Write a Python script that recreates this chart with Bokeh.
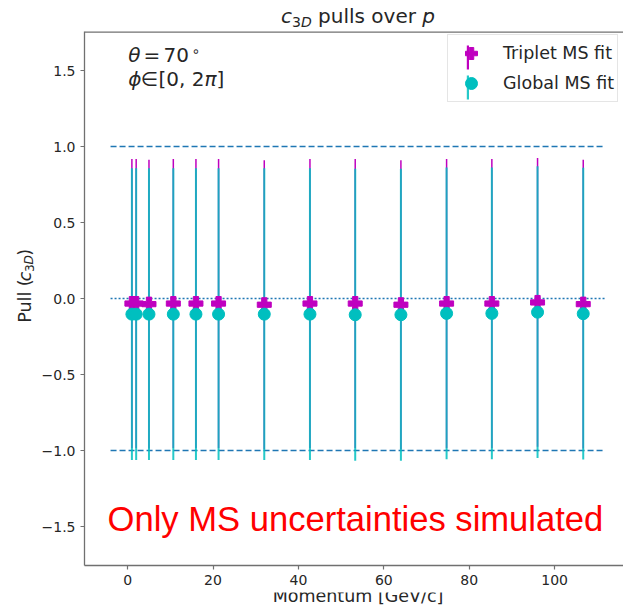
import numpy as np
from bokeh.plotting import figure
from bokeh.layouts import column, row
from bokeh.models import (ColumnDataSource, Label, Legend, LegendItem, Span,
                          FixedTicker, Range1d, CustomJSTickFormatter)
from bokeh.embed import file_html
from bokeh.resources import INLINE

# ---------------- data ----------------
momentum = [1.0, 2.0, 5.0, 10.7, 16.0, 21.3, 32.0, 42.7, 53.3, 64.0, 74.7, 85.3, 96.0, 106.7]
triplet_pull = [-0.033, -0.033, -0.037, -0.033, -0.033, -0.033, -0.041,
                -0.033, -0.033, -0.041, -0.033, -0.033, -0.026, -0.037]
triplet_err = [0.95, 0.95, 0.95, 0.95, 0.95, 0.95, 0.95,
               0.95, 0.95, 0.95, 0.95, 0.95, 0.95, 0.95]
global_pull = [-0.103, -0.103, -0.103, -0.103, -0.103, -0.103, -0.103,
               -0.103, -0.107, -0.107, -0.098, -0.098, -0.090, -0.100]
global_err = [0.96, 0.96, 0.96, 0.96, 0.96, 0.96, 0.96,
              0.96, 0.96, 0.96, 0.96, 0.96, 0.96, 0.96]
x_ticks = [0, 20, 40, 60, 80, 100]
y_ticks = [-1.5, -1.0, -0.5, 0.0, 0.5, 1.0, 1.5]
dashed_levels = [-1.0, 1.0]
dotted_levels = [0.0]

MAGENTA = "#bf00bf"
CYAN = "#00bfbf"
LINEBLUE = "#1f77b4"
TXT = "#262626"
AXC = "#707070"
FONT = "DejaVu Sans"
MID = 0.35            # label anchor sits ~0.35em above the baseline

# ---------------- page geometry ----------------
PW, PH = 623, 608
TOP_H = 31            # title strip
YLAB_W = 36           # y-label strip
FL, FT, FB = 84, 31, 565   # frame left / top / bottom on the page
MAIN_W = PW - YLAB_W
MB = 27
MAIN_H = (FB - FT) + MB
XLAB_H = PH - TOP_H - MAIN_H

X0, PXX = -10.1, 4.27      # data x at frame left, pixels per unit
PXY = 152.0
fw = PW - FL
fh = FB - FT
X1 = X0 + fw / PXX
YH = fh / 2 / PXY


def strip(w, h, x_left, y_top):
    f = figure(width=w, height=h, x_range=Range1d(x_left, x_left + w),
               y_range=Range1d(y_top + h, y_top),
               output_backend="svg", toolbar_location=None,
               x_axis_location=None, y_axis_location=None,
               min_border=0, min_border_left=0, min_border_right=0,
               min_border_top=0, min_border_bottom=0)
    f.outline_line_color = None
    f.grid.visible = False
    return f


def put(fig, text, x, y, size, style="normal", angle=0.0, align="left", font=FONT,
        color=TXT, screen=False):
    kw = dict(x_units="screen", y_units="screen") if screen else {}
    fig.add_layout(Label(x=x, y=y, text=text, text_font=font,
                         text_font_size=f"{size}px", text_font_style=style,
                         text_color=color, text_align=align, text_baseline="middle",
                         angle=angle, **kw))


# page-space helpers (baseline given in page pixels)
def page_text(fig, text, px, base_y, size, style="normal", align="left", font=FONT,
              color=TXT):
    put(fig, text, px, base_y - MID * size, size, style, align=align, font=font, color=color)


def page_vtext(fig, text, base_x, py, size, style="normal"):
    put(fig, text, base_x - MID * size, py, size, style, angle=np.pi / 2)


# ---------------- title strip: c_{3D} pulls over p ----------------
ttl = strip(PW, TOP_H, 0, 0)
tb = 22
page_text(ttl, "c", 280.5, tb, 20, "italic")
page_text(ttl, "3", 291.5, tb + 4, 14)
page_text(ttl, "D", 300.4, tb + 4, 14, "italic")
page_text(ttl, "pulls over", 317.6, tb, 20)
page_text(ttl, "p", 421.8, tb, 20, "italic")

# ---------------- y-label strip: Pull (c_{3D}) ----------------
ylab = strip(YLAB_W, MAIN_H, 0, TOP_H)
bx = 30.7
page_vtext(ylab, "Pull (", bx, 337, 17.5)
page_vtext(ylab, "c", bx, 293.3, 17.5, "italic")
page_vtext(ylab, "3", bx + 2.5, 283.7, 12.25)
page_vtext(ylab, "D", bx + 2.5, 275.9, 12.25, "italic")
page_vtext(ylab, ")", bx, 266.5, 17.5)

# ---------------- x-label strip ----------------
xlab = strip(PW, XLAB_H, 0, TOP_H + MAIN_H)
page_text(xlab, "Momentum [GeV/c]", 357.5, 602, 17.5, align="center")

# ---------------- main plot ----------------
p = figure(width=MAIN_W, height=MAIN_H, x_range=Range1d(X0, X1), y_range=Range1d(-YH, YH),
           output_backend="svg", toolbar_location=None,
           min_border_left=FL - YLAB_W, min_border_right=0, min_border_top=0,
           min_border_bottom=MB)
p.outline_line_color = None
p.grid.visible = False

for ax in (p.xaxis[0], p.yaxis[0]):
    ax.axis_line_color = AXC
    ax.axis_line_width = 1.3
    ax.major_tick_line_color = AXC
    ax.major_tick_line_width = 1.2
    ax.major_tick_in = 0
    ax.major_tick_out = 4
    ax.minor_tick_line_color = None
    ax.major_label_standoff = 5
    ax.major_label_text_font = FONT
    ax.major_label_text_font_size = "14px"
    ax.major_label_text_color = TXT
p.xaxis.ticker = FixedTicker(ticks=x_ticks)
p.yaxis.ticker = FixedTicker(ticks=y_ticks)
p.yaxis.formatter = CustomJSTickFormatter(
    code="return tick < 0 ? '\u2212' + Math.abs(tick).toFixed(1) : tick.toFixed(1);")

# top border of the axes box (its right side runs off the picture)
p.add_layout(Span(location=YH, dimension="width", line_color=AXC, line_width=2.6))

# reference lines
x_lo = min(momentum) - 5
x_hi = max(momentum) + 5
p.segment(x0=[x_lo] * len(dashed_levels), y0=dashed_levels,
          x1=[x_hi] * len(dashed_levels), y1=dashed_levels,
          line_color=LINEBLUE, line_width=1.4, line_dash="6 3")
p.segment(x0=[x_lo], y0=dotted_levels, x1=[x_hi], y1=dotted_levels,
          line_color=LINEBLUE, line_width=1.4, line_dash="2 2")

# error bars & points
t = np.array(triplet_pull); te = np.array(triplet_err)
g = np.array(global_pull); ge = np.array(global_err)
src_t = ColumnDataSource(dict(p=momentum, pull=triplet_pull, lo=list(t - te), hi=list(t + te)))
src_g = ColumnDataSource(dict(p=momentum, pull=global_pull, lo=list(g - ge), hi=list(g + ge)))

bars_t = p.vbar(x="p", bottom="lo", top="hi", width=1.5 / PXX, source=src_t,
                fill_color=MAGENTA, line_color=None)
bars_g = p.vbar(x="p", bottom="lo", top="hi", width=2.0 / PXX, source=src_g,
                fill_color=CYAN, fill_alpha=0.85, line_color=None)
pts_t = p.scatter("p", "pull", source=src_t, marker="plus", size=14,
                  fill_color=MAGENTA, line_color=MAGENTA)
pts_g = p.scatter("p", "pull", source=src_g, marker="circle", size=12,
                  fill_color=CYAN, line_color=CYAN)

# legend (box + markers + labels), with the error-bar strokes in a second legend
LEG_LEFT, LEG_TOP = 447, 39
PAD, GH, SP, GW = 3, 30, -3, 40
leg_h = 2 * GH + SP + 2 * PAD
leg_vy = FB - (LEG_TOP + leg_h)
leg_vx = LEG_LEFT - FL

legend_bars = Legend(items=[LegendItem(label=" ", renderers=[bars_t]),
                            LegendItem(label=" ", renderers=[bars_g])],
                     location=(leg_vx + GW // 2 - 1, leg_vy), margin=0,
                     padding=PAD, spacing=SP, glyph_height=GH, glyph_width=3,
                     border_line_color=None, background_fill_alpha=0,
                     label_text_font_size="1px", label_width=1, label_height=GH,
                     label_standoff=0)
legend_main = Legend(items=[LegendItem(label="Triplet MS fit", renderers=[pts_t]),
                            LegendItem(label="Global MS fit", renderers=[pts_g])],
                     location=(leg_vx, leg_vy), margin=0,
                     padding=PAD, spacing=SP, glyph_height=GH, glyph_width=GW,
                     label_standoff=12, label_text_font=FONT, label_text_font_size="17.5px",
                     label_text_color=TXT, label_height=GH,
                     border_line_color="#cccccc", border_line_width=1,
                     background_fill_alpha=0)
p.add_layout(legend_bars, "center")
p.add_layout(legend_main, "center")


def inner(text, px, base_y, size, style="normal", font=FONT, color=TXT):
    py = base_y - MID * size
    put(p, text, px - FL, FB - py, size, style, font=font, color=color, screen=True)


inner("\u03b8", 127.7, 61, 20, "italic")
inner("=", 143, 61, 20)
inner("70", 163, 61, 20)
inner("\u2218", 191, 55, 14)
inner("\u03d5", 127.7, 85.7, 20, "italic")
inner("\u2208", 140, 85.7, 20)
inner("[0, 2", 158, 85.7, 20)
inner("\u03c0", 204, 85.7, 20, "italic")
inner("]", 216, 85.7, 20)

inner("Only MS uncertainties simulated", 107, 531, 34.6, font="Liberation Sans",
      color="#ff0000")

layout = column(ttl, row(ylab, p, spacing=0), xlab, spacing=0)
open("out.html", "w").write(file_html(layout, INLINE))
